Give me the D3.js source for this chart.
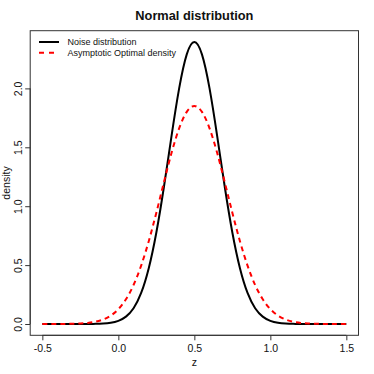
<!DOCTYPE html>
<html><head><meta charset="utf-8">
<script src="https://cdn.jsdelivr.net/npm/d3@7"></script>
<style>body{margin:0;background:#fff}svg{display:block;font-family:"Liberation Sans",Arial,sans-serif}</style>
</head><body><svg id="c" width="374" height="374"></svg>
<script>
const title = "Normal distribution";
const xLabel = "z";
const yLabel = "density";
const seriesNames = ["Noise distribution", "Asymptotic Optimal density"];
const seriesColors = ["#000000", "#ff0000"];
const xTicks = [-0.5, 0.0, 0.5, 1.0, 1.5];
const yTicks = [0.0, 0.5, 1.0, 1.5, 2.0];
const z = [-0.5,-0.45,-0.4,-0.35,-0.3,-0.25,-0.2,-0.15,-0.1,-0.05,0,0.05,0.1,0.15,0.2,0.25,0.3,0.35,0.4,0.45,0.5,
  0.55,0.6,0.65,0.7,0.75,0.8,0.85,0.9,0.95,1.0,1.05,1.1,1.15,1.2,1.25,1.3,1.35,1.4,1.45,1.5];
const noise = [0,0,0,0.00001,0.00003,0.0001,0.00035,0.00119,0.00367,0.0103,0.0266,0.0625,0.134,0.264,0.474,0.777,1.165,1.597,2.000,2.289,2.394,
  2.289,2.000,1.597,1.165,0.777,0.474,0.264,0.134,0.0625,0.0266,0.0103,0.00367,0.00119,0.00035,0.0001,0.00003,0.00001,0,0,0];
const optimal = [0.00004,0.00011,0.00031,0.00079,0.00191,0.00439,0.00956,0.0197,0.0386,0.0717,0.126,0.210,0.331,0.496,0.703,0.945,1.204,1.453,1.661,1.801,1.850,
  1.801,1.661,1.453,1.204,0.945,0.703,0.496,0.331,0.210,0.126,0.0717,0.0386,0.0197,0.00956,0.00439,0.00191,0.00079,0.00031,0.00011,0.00004];

const svg = d3.select("#c");
const L = 30.2, R = 358.5, T = 30.7, B = 335.3;
const x = d3.scaleLinear().domain([-0.58, 1.58]).range([L, R]);
const y = d3.scaleLinear().domain([-0.0958, 2.4898]).range([B, T]);
const axisCol = "#333", textCol = "#111";

// box
svg.append("rect").attr("x", L).attr("y", T).attr("width", R - L).attr("height", B - T)
  .attr("fill", "none").attr("stroke", axisCol).attr("stroke-width", 1);

// x axis
const xa = svg.append("g").attr("transform", `translate(0,${B})`)
  .call(d3.axisBottom(x).tickValues(xTicks).tickSize(5).tickPadding(4).tickFormat(d3.format(".1f")));
xa.select(".domain").attr("d", `M${x(xTicks[0])},0H${x(xTicks[xTicks.length-1])}`).attr("stroke", axisCol);
xa.selectAll(".tick line").attr("stroke", axisCol);
xa.selectAll("text").attr("font-size", 10.5).attr("fill", textCol).attr("font-family", "Liberation Sans, Arial")
  .text(d => d3.format(".1f")(d).replace("−", "-"));

// y axis
const ya = svg.append("g").attr("transform", `translate(${L},0)`)
  .call(d3.axisLeft(y).tickValues(yTicks).tickSize(5).tickFormat(d3.format(".1f")));
ya.select(".domain").attr("d", `M0,${y(yTicks[0])}V${y(yTicks[yTicks.length-1])}`).attr("stroke", axisCol);
ya.selectAll(".tick line").attr("stroke", axisCol);
ya.selectAll("text").attr("font-size", 10.5).attr("fill", textCol).attr("font-family", "Liberation Sans, Arial")
  .attr("x", null).attr("dy", null).attr("text-anchor", "middle")
  .attr("transform", "translate(-8,0) rotate(-90)");

// labels
svg.append("text").attr("x", (L + R) / 2).attr("y", 20).attr("text-anchor", "middle")
  .attr("font-size", 12.8).attr("font-weight", "bold").attr("fill", textCol).text(title);
svg.append("text").attr("x", (L + R) / 2).attr("y", 365.5).attr("text-anchor", "middle")
  .attr("font-size", 10.5).attr("fill", textCol).text(xLabel);
svg.append("text").attr("transform", `translate(9.5,${(T + B) / 2}) rotate(-90)`).attr("text-anchor", "middle")
  .attr("font-size", 10.5).attr("fill", textCol).text(yLabel);

// curves
const line = d3.line().x((d, i) => x(z[i])).y(d => y(d)).curve(d3.curveNatural);
svg.append("path").datum(noise).attr("d", line).attr("fill", "none")
  .attr("stroke", seriesColors[0]).attr("stroke-width", 2);
svg.append("path").datum(optimal).attr("d", line).attr("fill", "none")
  .attr("stroke", seriesColors[1]).attr("stroke-width", 2).attr("stroke-dasharray", "5,4");

// legend
const lg = svg.append("g");
seriesNames.forEach((n, i) => {
  const yy = 42 + i * 10.7;
  lg.append("line").attr("x1", 39).attr("x2", 59).attr("y1", yy).attr("y2", yy)
    .attr("stroke", seriesColors[i]).attr("stroke-width", 2)
    .attr("stroke-dasharray", i === 1 ? "5,5" : null);
  lg.append("text").attr("x", 67.5).attr("y", yy + 3.2).attr("font-size", 9).attr("fill", textCol).text(n);
});
</script></body></html>
